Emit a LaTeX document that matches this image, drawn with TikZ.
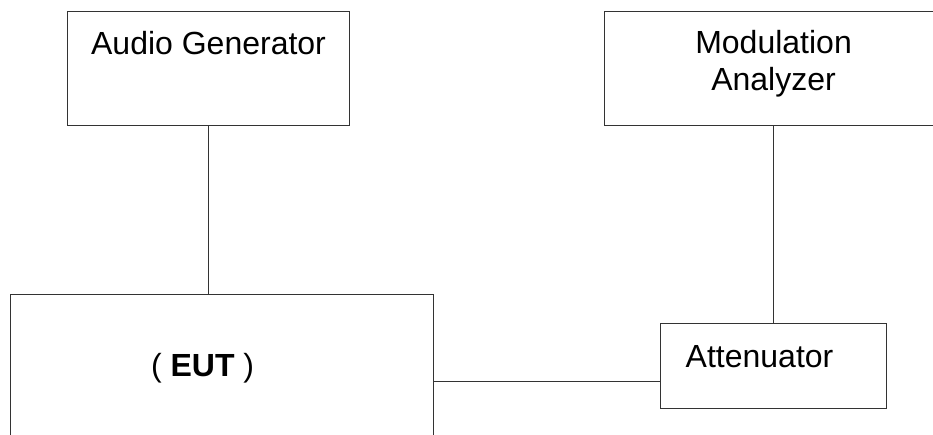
\documentclass[tikz,border=0pt]{standalone}
\usepackage{fontspec}
\setmainfont{Liberation Sans}
\tikzstyle{box} = [draw=black!80, line width=1.1pt, rectangle, inner sep=0pt, anchor=north west]
\tikzstyle{wire} = [draw=black!80, line width=1.1pt]
\tikzstyle{caption} = [inner sep=0pt, font=\fontsize{32pt}{37pt}\selectfont]

\begin{document}
\begin{tikzpicture}[x=1pt, y=-1pt]
\clip (0,0) rectangle (933,435);
\node[box, minimum width=282pt, minimum height=114pt,
	label={[caption, anchor=base, yshift=-44pt]north:Audio Generator}] (audio) at (67,11) {};
\node[box, minimum width=338pt, minimum height=114pt,
	label={[caption, align=center, anchor=north, yshift=-19pt]north:{Modulation\\Analyzer}}] (modan) at (604,11) {};
\node[box, minimum width=423pt, minimum height=174pt,
	label={[caption, anchor=base, xshift=-19.5pt, yshift=-82pt]north:{( \textbf{EUT} )}}] (eut) at (10,294) {};
\node[box, minimum width=226pt, minimum height=85pt,
	label={[caption, anchor=base, xshift=-14pt, yshift=-44pt]north:Attenuator}] (atten) at (660,323) {};

\draw[wire] (audio.south) -- (audio.south |- eut.north);
\draw[wire] (modan.south) -- (modan.south |- atten.north);
\draw[wire] (eut.east) -- (eut.east -| atten.west);
\end{tikzpicture}
\end{document}
